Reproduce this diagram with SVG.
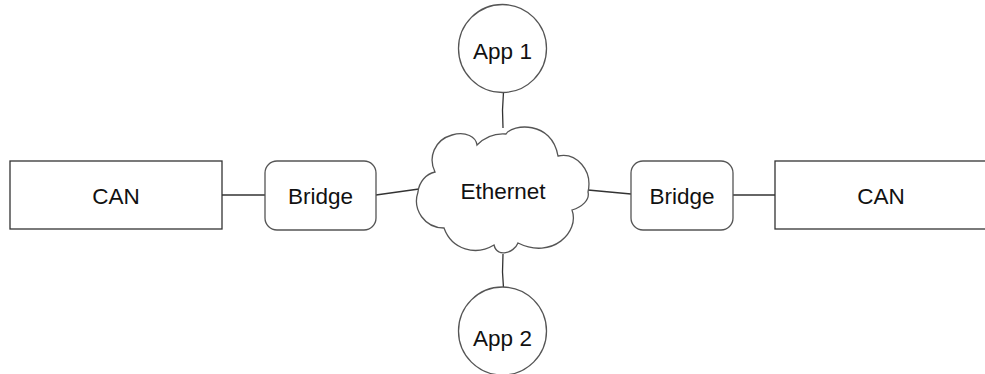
<svg xmlns="http://www.w3.org/2000/svg" width="985" height="374" viewBox="0 0 985 374">
<style>
.t{font-family:"Liberation Sans",Arial,sans-serif;font-size:22.5px;fill:#111;text-anchor:middle}
.box{fill:#fff;stroke:#333;stroke-width:1.3}
.nd{fill:#fff;stroke:#555;stroke-width:1.3}
.ln{fill:none;stroke:#333;stroke-width:1.3}
</style>
<rect width="985" height="374" fill="#fff"/>
<g id="connectors">
<line class="ln" x1="222" y1="195" x2="265" y2="195"/>
<line class="ln" x1="376" y1="195" x2="419" y2="189"/>
<line class="ln" x1="588" y1="190" x2="631" y2="194"/>
<line class="ln" x1="733" y1="195" x2="775" y2="195"/>
<polyline class="ln" points="503.5,92 502.5,110 503,128"/>
<polyline class="ln" points="503,254 502.5,272 503.5,288"/>
</g>
<g id="can-left"><rect class="box" x="10" y="161" width="212" height="68"/><text class="t" x="116" y="204">CAN</text></g>
<g id="bridge-left"><rect class="nd" x="265" y="161" width="111" height="69" rx="12"/><text class="t" x="320.5" y="204">Bridge</text></g>
<g id="ethernet"><path class="nd" d="M435,172 C428,158 434,140 452,135 C466,131 476,137 477,145 C484,138 494,133 506,134 C512,124 552,120 558,156 C576,152 593,170 588,192 C590,200 582,207 572,210 C580,232 552,260 518,243 C514,253 497,258 494,245 C476,256 452,250 444,228 C425,228 412,210 418,192 C419,182 426,174 435,172 Z"/><text class="t" x="503" y="199">Ethernet</text></g>
<g id="bridge-right"><rect class="nd" x="631" y="161" width="102" height="69" rx="12"/><text class="t" x="682" y="204">Bridge</text></g>
<g id="can-right"><rect class="box" x="775" y="161" width="215" height="68"/><text class="t" x="881" y="204">CAN</text></g>
<g id="app1"><circle class="nd" cx="502.5" cy="48.5" r="44"/><text class="t" x="502.5" y="59">App 1</text></g>
<g id="app2"><circle class="nd" cx="502.5" cy="331" r="44"/><text class="t" x="502.5" y="346">App 2</text></g>
</svg>
